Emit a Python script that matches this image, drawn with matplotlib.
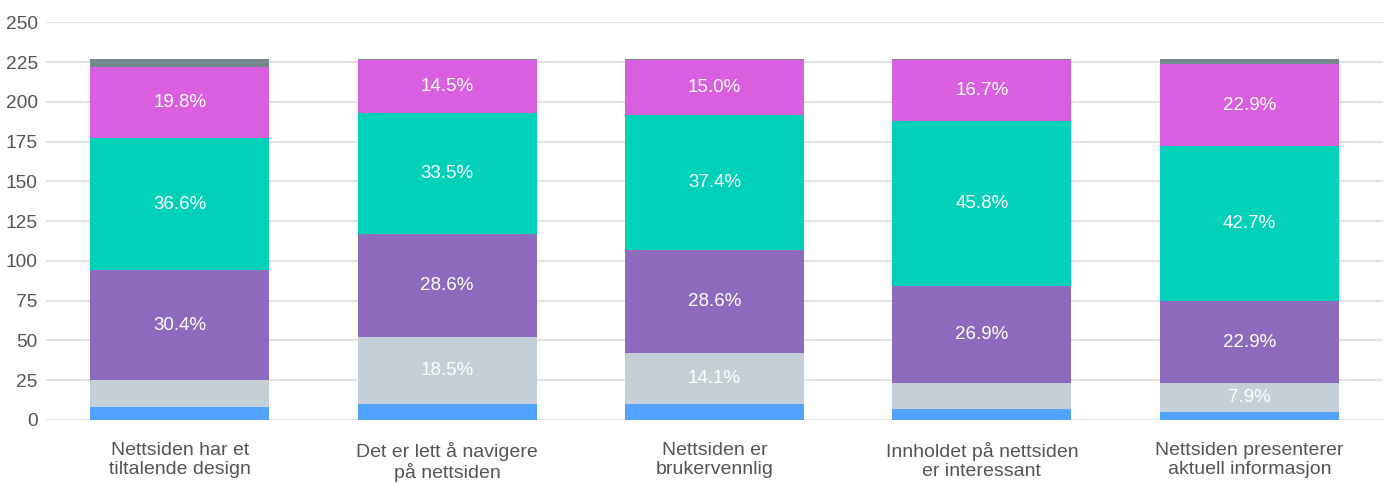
"""Stacked bar chart: website evaluation (Norwegian survey)."""

import matplotlib.pyplot as plt
import numpy as np

plt.rcParams["font.family"] = ["Liberation Sans", "DejaVu Sans"]

categories = [
    "Nettsiden har et\ntiltalende design",
    "Det er lett å navigere\npå nettsiden",
    "Nettsiden er\nbrukervennlig",
    "Innholdet på nettsiden\ner interessant",
    "Nettsiden presenterer\naktuell informasjon",
]

# counts per answer, bottom to top
helt_uenig = [8, 10, 10, 7, 5]
litt_uenig = [17, 42, 32, 16, 18]
noytral = [69, 65, 65, 61, 52]
litt_enig = [83, 76, 85, 104, 97]
helt_enig = [45, 33, 34, 38, 52]
vet_ikke = [5, 1, 1, 1, 3]

series = [helt_uenig, litt_uenig, noytral, litt_enig, helt_enig, vet_ikke]
colors = ["#52A3FF", "#C5CFD8", "#8C6BBE", "#00D1B8", "#D95FE0", "#74878D"]

y_ticks = [0, 25, 50, 75, 100, 125, 150, 175, 200, 225, 250]


def main() -> None:
    fig = plt.figure(figsize=(13.91, 4.83), dpi=100)
    ax = fig.add_axes([46 / 1391, 1 - 420 / 483, (1383 - 46) / 1391, (420 - 22.3) / 483])

    x = np.arange(len(categories))
    data = np.array(series, dtype=float)
    totals = data.sum(axis=0)
    bottom = np.zeros(len(categories))

    for values, color in zip(data, colors):
        ax.bar(x, values, bottom=bottom, width=0.67, color=color, linewidth=0, zorder=2)
        for xi, v, b, t in zip(x, values, bottom, totals):
            pct = v / t * 100
            if pct >= 7.5:
                ax.text(xi, b + v / 2, f"{pct:.1f}%", ha="center", va="center",
                        color="white", fontsize=13.5, zorder=3)
        bottom += values

    ax.set_xlim(-0.5, len(categories) - 0.5)
    ax.set_ylim(0, 250)
    ax.set_yticks(y_ticks)
    ax.set_xticks(x)
    ax.set_xticklabels(categories, fontsize=14, color="#555555", linespacing=1.15)
    ax.tick_params(axis="y", length=0, labelsize=13.8, labelcolor="#555555", pad=6)
    ax.tick_params(axis="x", length=0, pad=16)
    ax.grid(axis="y", color="#DDDDDD", linewidth=1.2, zorder=0)
    ax.set_axisbelow(True)
    for spine in ax.spines.values():
        spine.set_visible(False)

    fig.savefig("out.png", dpi=100)
    plt.close(fig)


if __name__ == "__main__":
    main()
